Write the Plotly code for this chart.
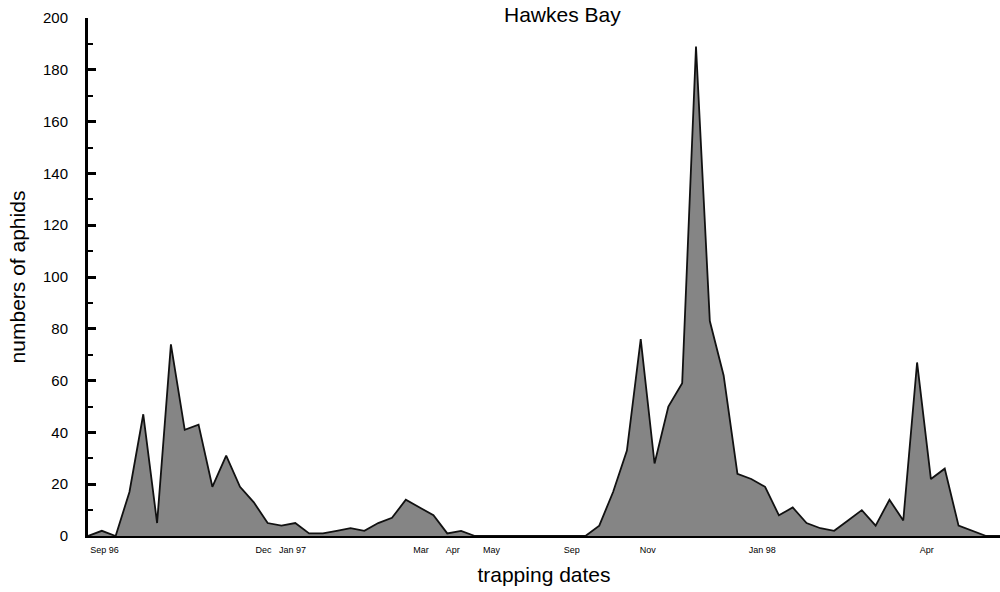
import plotly.graph_objects as go

# Aphid trap catches, one value per trapping date (sample order)
sample_no = list(range(67))
aphids = [
    0, 2, 0, 17, 47, 5, 74, 41, 43, 19,
    31, 19, 13, 5, 4, 5, 1, 1, 2, 3,
    2, 5, 7, 14, 11, 8, 1, 2, 0, 0,
    0, 0, 0, 0, 0, 0, 0, 4, 17, 33,
    76, 28, 50, 59, 189, 83, 62, 24, 22, 19,
    8, 11, 5, 3, 2, 6, 10, 4, 14, 6,
    67, 22, 26, 4, 2, 0, 0,
]

# Month labels placed at the sample positions they fall on
month_pos = [1.2, 12.7, 14.8, 24.1, 26.4, 29.2, 35.0, 40.5, 48.8, 60.7]
month_lbl = ["Sep 96", "Dec", "Jan 97", "Mar", "Apr", "May", "Sep", "Nov", "Jan 98", "Apr"]

fig = go.Figure()
fig.add_trace(go.Scatter(
    x=sample_no, y=aphids,
    mode="lines",
    fill="tozeroy",
    fillcolor="#858585",
    line=dict(color="#111111", width=1.8),
    hoverinfo="skip",
))

font_main = "Liberation Sans, Arial, Helvetica, sans-serif"

fig.update_layout(
    width=1000, height=592,
    margin=dict(l=88, r=0, t=18, b=56),
    paper_bgcolor="white",
    plot_bgcolor="white",
    showlegend=False,
    font=dict(family=font_main, color="black"),
    xaxis=dict(
        range=[0, 66],
        tickmode="array",
        tickvals=month_pos,
        ticktext=month_lbl,
        ticks="",
        ticklabelstandoff=4,
        tickfont=dict(size=9, family=font_main, color="black"),
        showgrid=False, zeroline=False,
        showline=True, linecolor="black", linewidth=1.5,
        title=dict(text="trapping dates", font=dict(size=21), standoff=14),
    ),
    yaxis=dict(
        range=[0, 200],
        tickmode="linear", tick0=0, dtick=20,
        ticks="inside", ticklen=8, tickwidth=2.5, tickcolor="black",
        minor=dict(ticks="inside", dtick=10, ticklen=5, tickwidth=1.5, tickcolor="black"),
        ticklabelstandoff=14,
        tickfont=dict(size=15, family=font_main, color="black"),
        showgrid=False, zeroline=False,
        showline=True, linecolor="black", linewidth=3,
        title=dict(text="numbers of aphids", font=dict(size=21), standoff=12),
    ),
    annotations=[dict(
        text="Hawkes Bay",
        xref="paper", yref="paper",
        x=0.52, y=1, xanchor="center", yanchor="top",
        yshift=17, showarrow=False,
        font=dict(size=21, family=font_main, color="black"),
    )],
)

fig.write_html("out.html")
